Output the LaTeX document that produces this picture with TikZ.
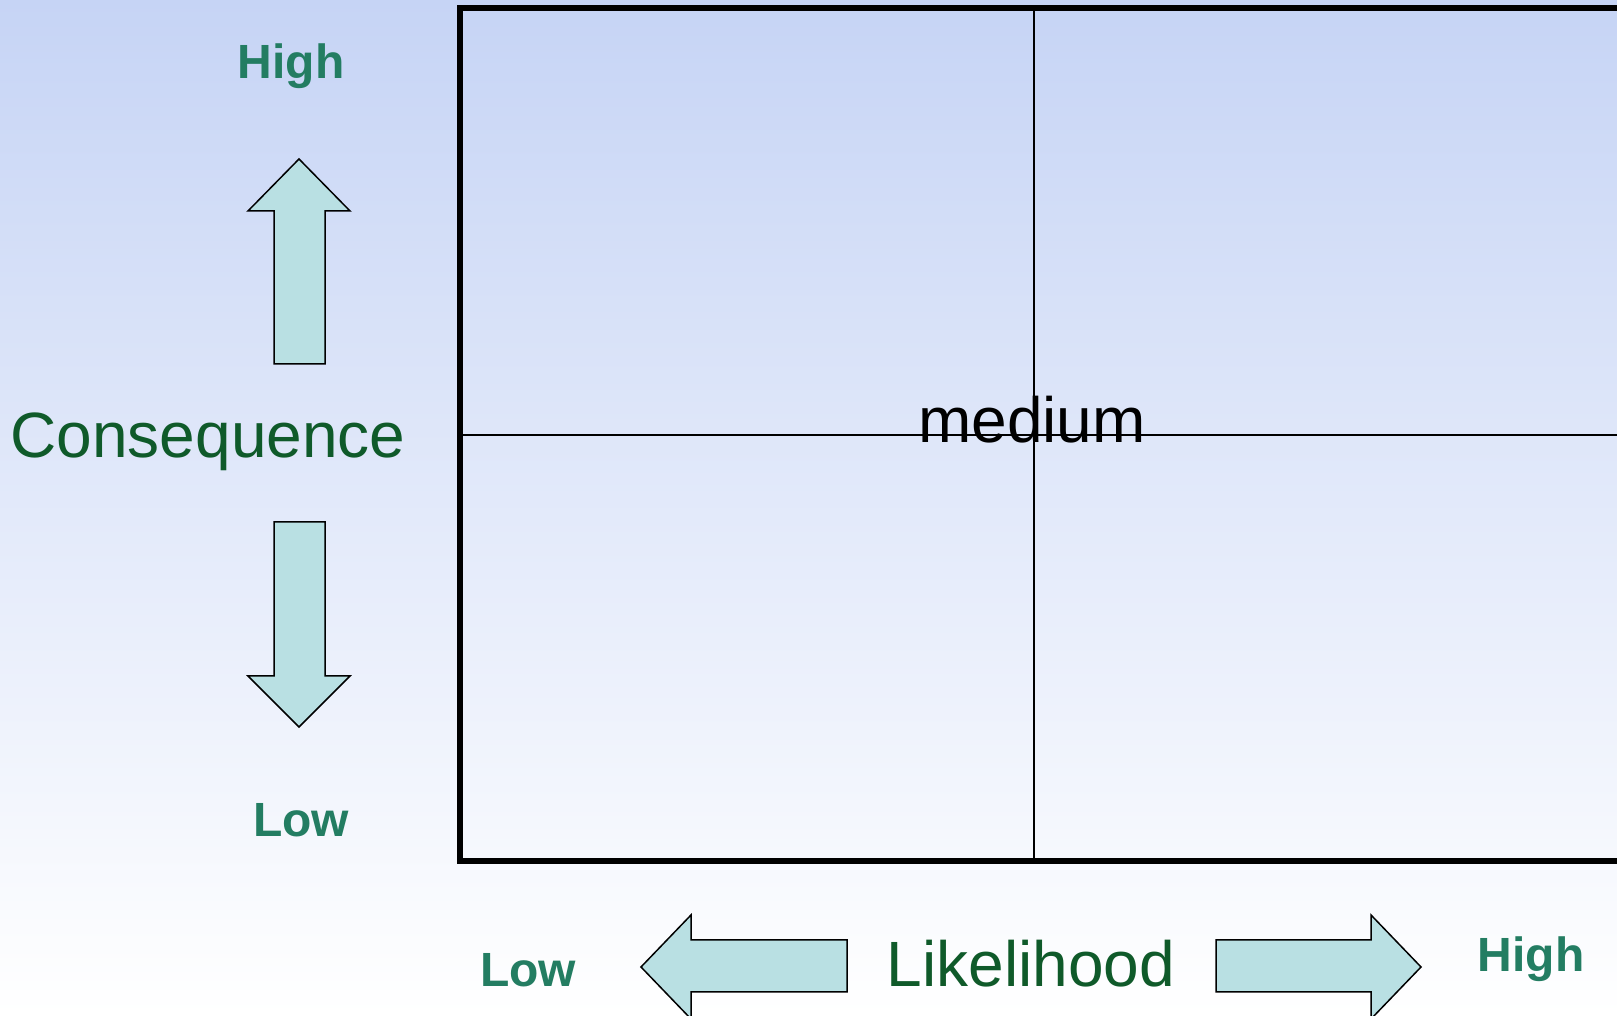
\documentclass[tikz,border=0pt]{standalone}
\usepackage{fontspec}
\setmainfont{Liberation Sans}
\definecolor{bgtop}{HTML}{C6D4F5}
\definecolor{arrowfill}{HTML}{B9E0E3}
\definecolor{lvl}{HTML}{237D62}
\definecolor{axis}{HTML}{0F5A2A}
\tikzset{
  fatarrow/.style={draw=black, line width=1.5pt, fill=arrowfill, line join=miter},
  lvltext/.style={inner sep=0pt, anchor=base, text=lvl, font=\fontsize{48}{50}\selectfont\bfseries},
  axistext/.style={inner sep=0pt, anchor=base, text=axis, font=\fontsize{64}{66}\selectfont},
  celltext/.style={inner sep=0pt, anchor=base, text=black, font=\fontsize{64}{65}\selectfont},
}
\begin{document}
\begin{tikzpicture}[x=1pt,y=1pt]
\useasboundingbox (0,0) rectangle (1617,1016);
\clip (0,0) rectangle (1617,1016);
\shade[top color=bgtop, bottom color=white] (0,0) rectangle (1617,1016);
% grid
\coordinate (tl) at (460,1008);
\coordinate (br) at (1650,155);
\draw[line width=2.2pt] (1034,1008) -- (1034,155);
\draw[line width=2.2pt] (460,581) -- (1650,581);
\draw[line width=6pt] (tl) rectangle (br);
% vertical arrows
\draw[fatarrow] (299,857) -- (350,805) -- (325,805) -- (325,652) -- (274,652) -- (274,805) -- (248,805) -- cycle;
\draw[fatarrow] (299,289) -- (350,340) -- (325,340) -- (325,494) -- (274,494) -- (274,340) -- (248,340) -- cycle;
% horizontal arrows
\draw[fatarrow] (641,49) -- (691,101) -- (691,76) -- (847,76) -- (847,24) -- (691,24) -- (691,-3) -- cycle;
\draw[fatarrow] (1421,49) -- (1371,101) -- (1371,76) -- (1216,76) -- (1216,24) -- (1371,24) -- (1371,-3) -- cycle;
% texts
\node[lvltext] (chigh) at (291,937) {High};
\node[lvltext] (clow) at (301,179) {Low};
\node[lvltext] (llow) at (528,29) {Low};
\node[lvltext] (lhigh) at (1531,44) {High};
\node[axistext] (cons) at (208,558) {Consequence};
\node[axistext] (like) at (1031,29) {Likelihood};
\node[celltext] (med) at (1032,573) {medium};
\end{tikzpicture}
\end{document}
